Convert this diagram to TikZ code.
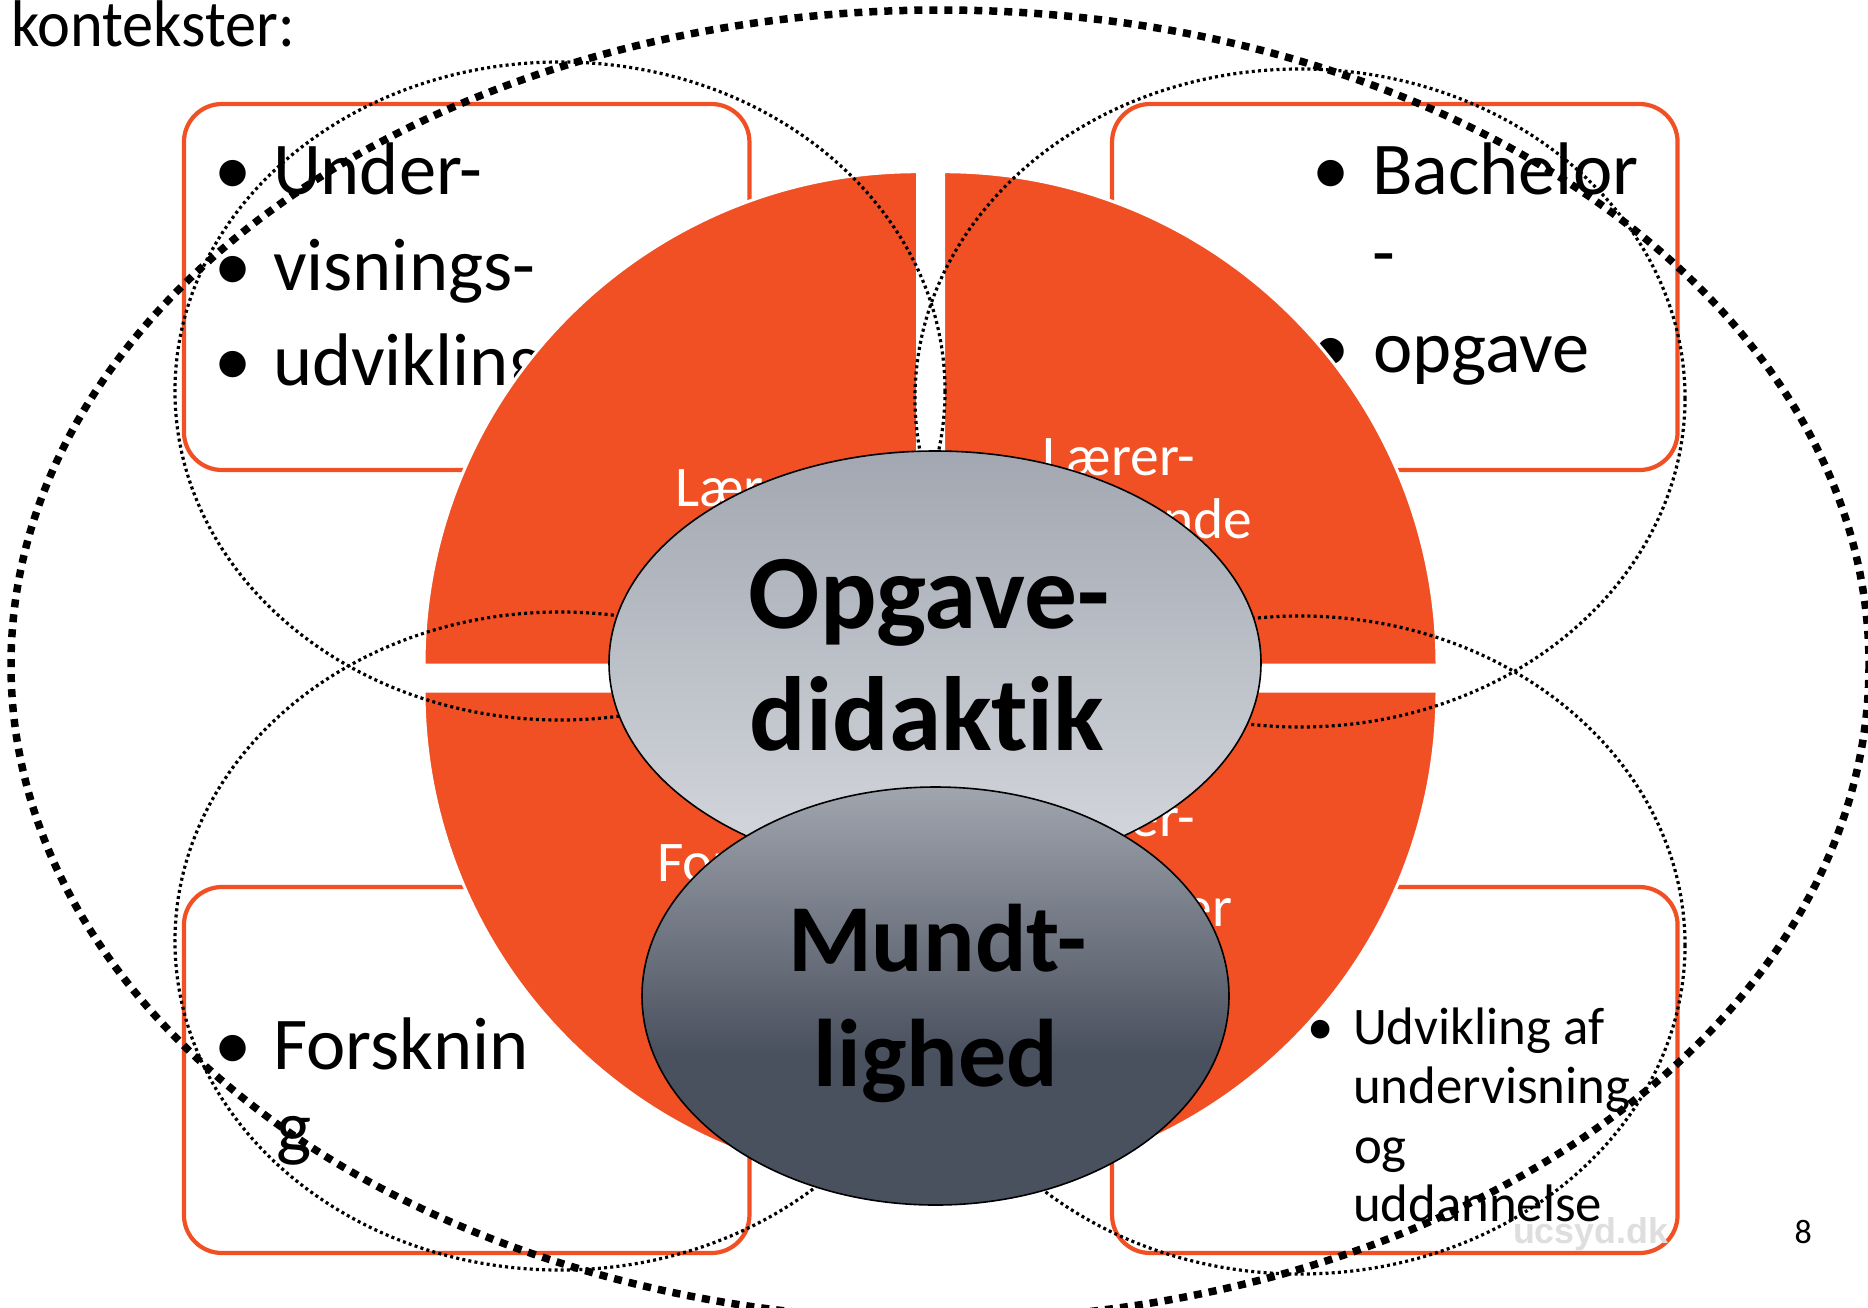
\documentclass[tikz,border=0pt]{standalone}
\usepackage{fontspec}
\setmainfont{Carlito}[Ligatures={NoCommon}]
\newfontfamily\wmfont{Liberation Sans}
\definecolor{orng}{RGB}{240,80,35}
\definecolor{gtop}{RGB}{162,167,177}
\definecolor{gbot}{RGB}{214,217,222}
\definecolor{mlight}{RGB}{160,165,174}
\definecolor{mdark}{RGB}{74,81,94}
\definecolor{wmgray}{RGB}{222,222,222}
\pgfdeclareverticalshading{mundsh}{100bp}{color(0bp)=(mdark); color(43bp)=(mdark); color(75bp)=(mlight); color(100bp)=(mlight)}
\tikzset{
  ctxbox/.style={draw=orng, line width=4.2pt, fill=white, rounded corners=38pt},
  sector/.style={fill=orng, draw=white, line width=3pt},
  thindot/.style={line width=3.2pt, dash pattern=on 3pt off 3.2pt},
  thickdot/.style={line width=7.5pt, dash pattern=on 8pt off 7pt},
  txt/.style={inner sep=0pt, outer sep=0pt},
  boxtxt/.style={txt, anchor=base west, font=\fontsize{74.5}{83}\selectfont},
  boxbul/.style={txt, anchor=base, font=\fontsize{74.5}{83}\selectfont},
  smalltxt/.style={txt, anchor=base west, font=\fontsize{52.8}{59}\selectfont},
  smallbul/.style={txt, anchor=base, font=\fontsize{52.8}{59}\selectfont},
  lbl/.style={txt, text=white, font=\fontsize{57.5}{63}\selectfont},
  bigA/.style={txt, anchor=base, font=\bfseries\fontsize{105.5}{120}\selectfont},
  bigB/.style={txt, anchor=base, font=\bfseries\fontsize{96}{112}\selectfont},
  ovalline/.style={draw=black, line width=1.6pt}
}
\begin{document}
\begin{tikzpicture}[x=1pt,y=-1pt]
\useasboundingbox (0,0) rectangle (1868,1307);
\clip (0,0) rectangle (1868,1307);
\fill[white] (0,0) rectangle (1868,1307);

% context boxes
\node[ctxbox, minimum width=565.5pt, minimum height=366pt, inner sep=0pt] (boxTL) at (466.7,287) {};
\node[ctxbox, minimum width=565.5pt, minimum height=366pt, inner sep=0pt] (boxTR) at (1394.8,287) {};
\node[ctxbox, minimum width=565.5pt, minimum height=366pt, inner sep=0pt] (boxBL) at (466.7,1070) {};
\node[ctxbox, minimum width=565.5pt, minimum height=366pt, inner sep=0pt] (boxBR) at (1394.8,1070) {};

% box texts
\node[boxbul] (bTL1) at (233,194.4) {•};
\node[boxtxt] (tTL1) at (273,194.4) {Under-};
\node[boxbul] (bTL2) at (233,290.4) {•};
\node[boxtxt] (tTL2) at (273,290.4) {visnings-};
\node[boxbul] (bTL3) at (233,385) {•};
\node[boxtxt] (tTL3) at (273,385) {udvikling};

\node[boxbul] (bTR1) at (1331,194.4) {•};
\node[boxtxt] (tTR1) at (1372,194.4) {Bachelor};
\node[boxtxt] (tTR2) at (1372,277.4) {-};
\node[boxbul] (bTR3) at (1331,372.5) {•};
\node[boxtxt] (tTR3) at (1373,372.5) {opgave};

\node[boxbul] (bBL1) at (233,1069) {•};
\node[boxtxt] (tBL1) at (273,1069) {Forsknin};
\node[boxtxt] (tBL2) at (276,1152.5) {g};

\node[smallbul] (bBR1) at (1321,1044.7) {•};
\node[smalltxt] (tBR1) at (1353,1044.7) {Udvikling af};
\node[smalltxt] (tBR2) at (1353,1103.6) {undervisning};
\node[smalltxt] (tBR3) at (1354,1163) {og};
\node[smalltxt] (tBR4) at (1353,1221.5) {uddannelse};

% pie sectors
\path[sector] (917.5,665.2) -- ++(-493.5,0) arc[start angle=180, end angle=270, radius=493.5] -- cycle;
\path[sector] (943.5,665.2) -- ++(0,-493.5) arc[start angle=270, end angle=360, radius=493.5] -- cycle;
\path[sector] (943.5,691) -- ++(493.5,0) arc[start angle=0, end angle=90, radius=493.5] -- cycle;
\path[sector] (917.5,691) -- ++(0,493.5) arc[start angle=90, end angle=180, radius=493.5] -- cycle;

% sector labels
\node[lbl, anchor=base west] (lTL) at (675,506) {Lærer};
\node[lbl, anchor=base] (lTR1) at (1119,475) {Lærer-};
\node[lbl, anchor=base] (lTR2) at (1119,538.3) {studerende};
\node[lbl, anchor=base west] (lBL) at (657,881.7) {Forsker};
\node[lbl, anchor=base] (lBR1) at (1119,836.7) {Lærer-};
\node[lbl, anchor=base] (lBR2) at (1119,926.7) {uddanner};

% dotted ellipses
\draw[thindot] (560,391) ellipse [x radius=385, y radius=329];
\draw[thindot] (1300,398) ellipse [x radius=385, y radius=329];
\draw[thindot] (560,941) ellipse [x radius=385, y radius=329];
\draw[thindot] (1300,945) ellipse [x radius=385, y radius=329];
\draw[thickdot] (940,665) ellipse [x radius=929, y radius=655];

% central ovals
\path[ovalline, top color=gtop, bottom color=gbot] (935,663) ellipse [x radius=326, y radius=212];
\node[bigA] (opg1) at (929.3,628) {Opgave-};
\node[bigA] (opg2) at (927,750.8) {didaktik};

\path[ovalline, shading=mundsh] (935.5,996) ellipse [x radius=293.5, y radius=209];
\node[bigB] (mun1) at (937.4,971.7) {Mundt-};
\node[bigB] (mun2) at (935.9,1086.7) {lighed};

% title fragment, watermark, page number
\node[txt, anchor=base west, xscale=0.945, font=\fontsize{66}{70}\selectfont] (title) at (11,46) {kontekster:};
\node[txt, anchor=base west, text=wmgray, font=\wmfont\bfseries\fontsize{35.8}{40}\selectfont] (wm) at (1513,1243.3) {ucsyd.dk};
\node[txt, anchor=base west, font=\fontsize{34}{40}\selectfont] (pnum) at (1794.5,1243.3) {8};
\end{tikzpicture}
\end{document}
